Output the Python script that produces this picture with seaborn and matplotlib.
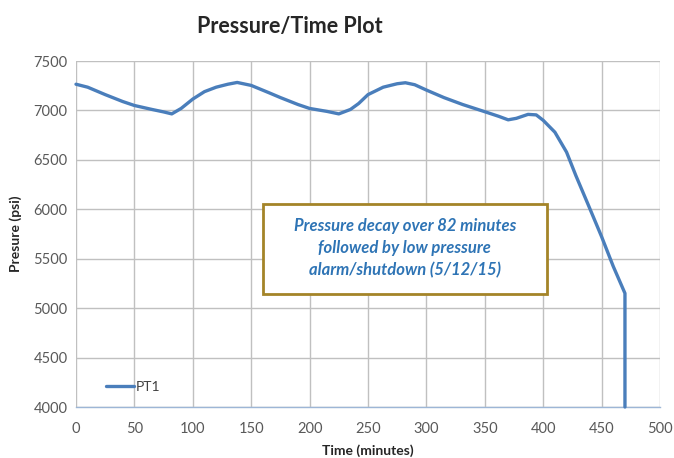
import pandas as pd
import seaborn as sns
import matplotlib.pyplot as plt
from matplotlib.patches import Rectangle

# data
time_min = [0, 10, 25, 40, 50, 65, 75, 82, 90, 100, 110, 120, 130, 138, 150,
            165, 175, 190, 200, 215, 225, 235, 242, 250, 263, 275, 282, 290,
            300, 315, 331, 350, 362, 370, 377, 387, 394, 400, 410, 420, 428,
            438, 450, 460, 470, 470]
pressure = [7265, 7235, 7160, 7090, 7050, 7010, 6985, 6965, 7020, 7115, 7190,
            7235, 7265, 7283, 7253, 7180, 7130, 7060, 7020, 6990, 6965, 7010,
            7070, 7160, 7235, 7270, 7280, 7260, 7206, 7130, 7060, 6987, 6940,
            6905, 6920, 6960, 6955, 6900, 6780, 6578, 6340, 6061, 5723, 5422,
            5150, 4000]
series_name = 'PT1'
x_ticks = list(range(0, 501, 50))
y_ticks = list(range(4000, 7501, 500))

df = pd.DataFrame({'Time': time_min, 'Pressure': pressure, 'Series': series_name})

sns.set_style('whitegrid')
plt.rcParams['font.family'] = ['Lato', 'DejaVu Sans']

fig = plt.figure(figsize=(6.74, 4.58), dpi=100)
ax = fig.add_axes([76 / 674, 1 - 407 / 458, 584 / 674, 346 / 458])

# estimator=None keeps the vertical drop at t=470 (two points on same x)
sns.lineplot(data=df, x='Time', y='Pressure', hue='Series', sort=False,
             estimator=None, palette=['#4a7ebb'], linewidth=2.4, ax=ax,
             zorder=4, clip_on=False)

ax.set_xlim(0, 500)
ax.set_ylim(4000, 7500)
ax.set_xticks(x_ticks)
ax.set_yticks(y_ticks)
ax.grid(True, color='#c0c0c0', linewidth=1)
for side in ['top', 'right', 'left']:
    ax.spines[side].set_visible(False)
ax.spines['bottom'].set_color('#9db6d6')
ax.spines['bottom'].set_linewidth(1)
ax.tick_params(axis='both', labelsize=10.5, labelcolor='#595959', pad=6)
ax.tick_params(axis='x', length=5, direction='inout', color='#b0b0b0', width=1, pad=8)
ax.tick_params(axis='y', length=0)

ax.set_xlabel('Time (minutes)', fontsize=10, fontweight='bold', labelpad=6)
ax.set_ylabel('Presure (psi)', fontsize=10, fontweight='bold', labelpad=8)

leg = ax.legend(loc='lower left', bbox_to_anchor=(0.03, 0.005), frameon=False,
                fontsize=10, handlelength=2.0, handletextpad=0.15)
for t in leg.get_texts():
    t.set_color('#404040')

fig.text(290 / 674, 1 - 27 / 458, 'Pressure/Time Plot', ha='center', va='center',
         fontsize=15.5, fontweight='bold')

# annotation box
ax.add_patch(Rectangle((160.5, 5145), 242.5, 910, transform=ax.transData,
                       facecolor='white', edgecolor='#a48428', linewidth=2,
                       zorder=5))
ax.text(281.5, 5605, 'Pressure decay over 82 minutes\nfollowed by low pressure\nalarm/shutdown (5/12/15)',
        ha='center', va='center', fontsize=12, fontstyle='italic',
        fontweight='bold', color='#2e74b5', linespacing=1.45, zorder=6)

plt.savefig('out.png', dpi=100)
